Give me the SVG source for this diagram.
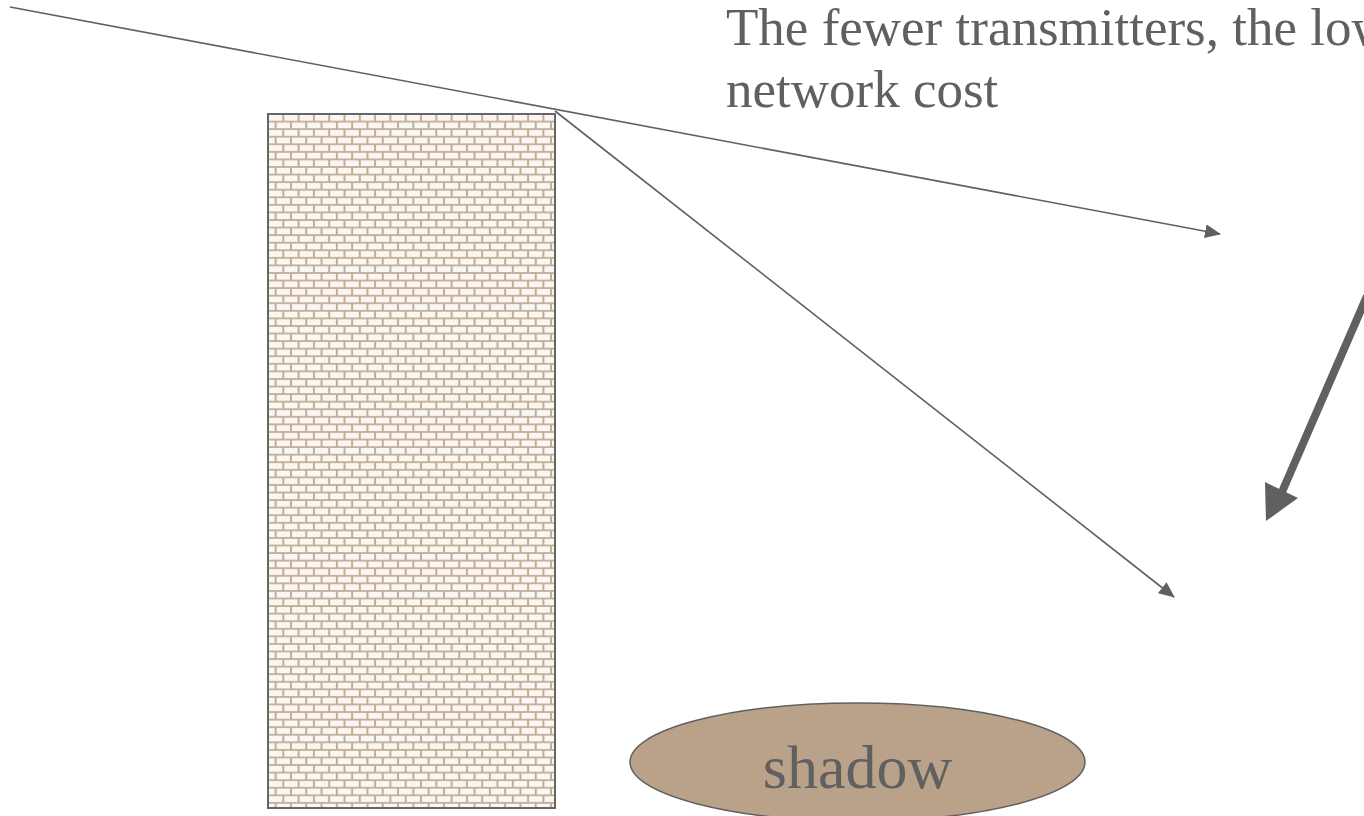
<svg xmlns="http://www.w3.org/2000/svg" width="1364" height="816" viewBox="0 0 1364 816">
<style>
.txt{font-family:"Liberation Serif","Times New Roman",serif;fill:#606060}
.ray{stroke:#606060;stroke-width:1.6;fill:none}
</style>
<defs>
<pattern id="brick" x="268" y="114" width="15.3" height="15.14" patternUnits="userSpaceOnUse">
<rect width="15.3" height="15.14" fill="#c4ac93"/>
<rect x="1.0" y="0.9" width="13.3" height="5.8" fill="#f9f7f4"/>
<rect x="-6.65" y="8.47" width="13.3" height="5.8" fill="#f9f7f4"/>
<rect x="8.65" y="8.47" width="13.3" height="5.8" fill="#f9f7f4"/>
</pattern>
<marker id="ah" markerWidth="16" markerHeight="14" refX="15" refY="7" orient="auto" markerUnits="userSpaceOnUse">
<path d="M0,0 L16,7 L0,14 Z" fill="#606060"/>
</marker>
</defs>
<g id="wall">
<rect x="268" y="114" width="287" height="694" fill="url(#brick)" stroke="#666" stroke-width="2"/>
</g>
<g id="shadow">
<ellipse cx="857.5" cy="762" rx="227.5" ry="59" fill="#baa28a" stroke="#606060" stroke-width="1.5"/>
<text class="txt" x="857.5" y="788" font-size="62" text-anchor="middle">shadow</text>
</g>
<g id="label">
<text class="txt" x="726" y="45" font-size="53">The fewer transmitters, the lower</text>
<text class="txt" x="726" y="107" font-size="53">network cost</text>
</g>
<g id="connectors">
<line class="ray" x1="10" y1="7" x2="1220" y2="234" marker-end="url(#ah)"/>
<line class="ray" x1="555" y1="111" x2="1174" y2="597" marker-end="url(#ah)"/>
<line x1="1367" y1="296" x2="1282" y2="492" stroke="#606060" stroke-width="8"/>
<polygon points="1266,521 1265,482 1298,498" fill="#606060"/>
</g>
</svg>
